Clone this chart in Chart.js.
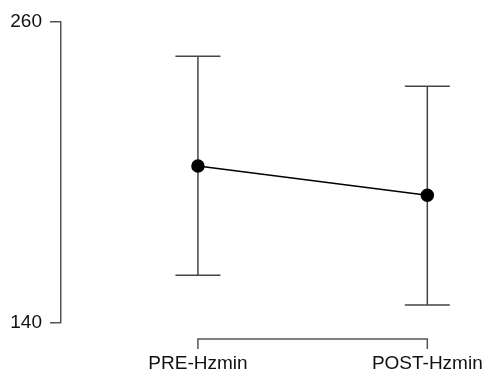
<!DOCTYPE html>
<html>
<head>
<meta charset="utf-8">
<script src="https://cdn.jsdelivr.net/npm/chart.js@4"></script>
<style>
html,body{margin:0;padding:0;background:#fff;}
#wrap{width:487px;height:375px;}
</style>
</head>
<body>
<div id="wrap"><canvas id="c" width="487" height="375"></canvas></div>
<script>
const categories = ["PRE-Hzmin", "POST-Hzmin"];
const means = [202.6, 190.9];
const lowerCI = [159.0, 147.2];
const upperCI = [246.3, 234.4];
const yTicks = [140, 260];

const FONT = "'Liberation Sans', Arial, sans-serif";

const errorBars = {
  id: 'errorBars',
  beforeDatasetsDraw(chart) {
    const {ctx, scales: {x, y}} = chart;
    ctx.save();
    ctx.strokeStyle = '#444';
    ctx.lineWidth = 1.5;
    for (let i = 0; i < means.length; i++) {
      const px = x.getPixelForValue(i);
      const yl = y.getPixelForValue(lowerCI[i]);
      const yu = y.getPixelForValue(upperCI[i]);
      const cap = 22.5;
      ctx.beginPath();
      ctx.moveTo(px, yl); ctx.lineTo(px, yu);
      ctx.moveTo(px - cap, yl); ctx.lineTo(px + cap, yl);
      ctx.moveTo(px - cap, yu); ctx.lineTo(px + cap, yu);
      ctx.stroke();
    }
    ctx.restore();
  },
  afterDraw(chart) {
    const {ctx, scales: {x}} = chart;
    const x0 = x.getPixelForValue(0);
    const x1 = x.getPixelForValue(categories.length - 1);
    const yb = 339;
    ctx.save();
    ctx.strokeStyle = '#555';
    ctx.lineWidth = 1.5;
    ctx.beginPath();
    ctx.moveTo(x0, yb + 10); ctx.lineTo(x0, yb); ctx.lineTo(x1, yb); ctx.lineTo(x1, yb + 10);
    ctx.stroke();
    ctx.fillStyle = '#111';
    ctx.font = '19px ' + FONT;
    ctx.textAlign = 'center';
    ctx.textBaseline = 'middle';
    categories.forEach((c, i) => {
      ctx.fillText(c, x.getPixelForValue(i), 364);
    });
    ctx.restore();
  }
};

new Chart(document.getElementById('c'), {
  type: 'line',
  data: {
    datasets: [{
      data: means.map((m, i) => ({x: i, y: m})),
      borderColor: '#000',
      borderWidth: 1.5,
      backgroundColor: '#000',
      pointBackgroundColor: '#000',
      pointBorderColor: '#000',
      pointRadius: 6,
      pointHoverRadius: 6,
      tension: 0
    }]
  },
  options: {
    responsive: false,
    animation: false,
    events: [],
    plugins: {legend: {display: false}, tooltip: {enabled: false}},
    layout: {padding: {left: 10, right: 2, top: 22, bottom: 52}},
    scales: {
      x: {
        type: 'linear',
        display: false,
        min: -0.597,
        max: 1.2275
      },
      y: {
        type: 'linear',
        min: 140,
        max: 260,
        afterBuildTicks(scale) { scale.ticks = yTicks.map(v => ({value: v})); },
        afterFit(scale) { scale.width = 51; },
        grid: {drawOnChartArea: false, drawTicks: true, tickLength: 11, color: '#555', lineWidth: 1.5},
        border: {display: true, color: '#555', width: 1.5},
        ticks: {
          padding: 8,
          color: '#111',
          font: {family: FONT, size: 19},
          callback: v => String(v)
        }
      }
    }
  },
  plugins: [errorBars]
});
</script>
</body>
</html>
